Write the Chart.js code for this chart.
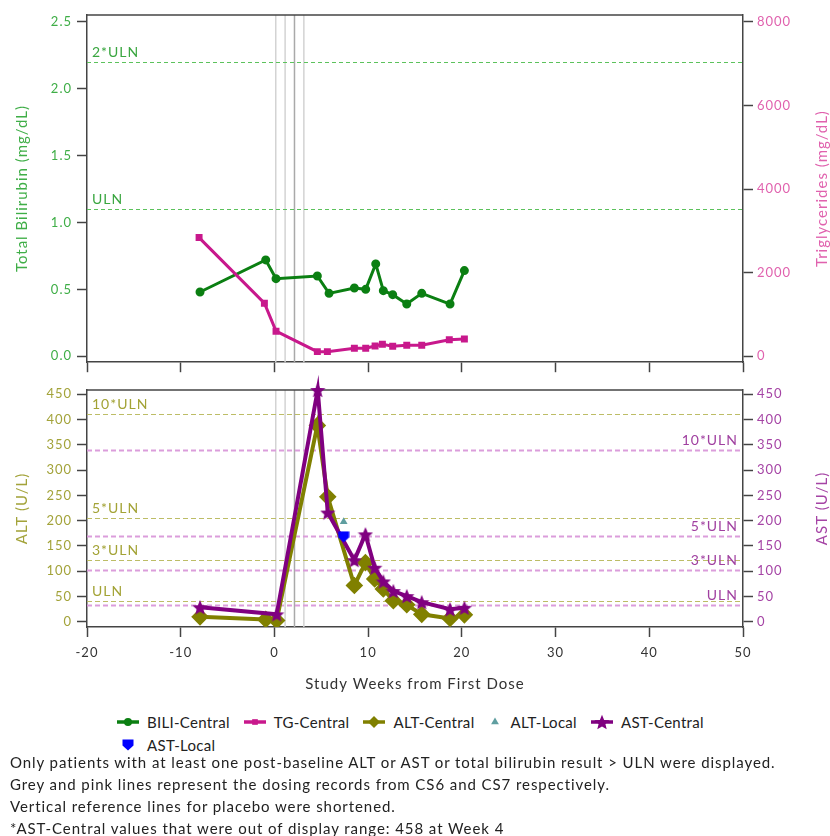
<!DOCTYPE html>
<html>
<head>
<meta charset="utf-8">
<script src="https://cdn.jsdelivr.net/npm/chart.js@4.4.1/dist/chart.umd.min.js"></script>
<style>
  body { margin: 0; background: #fff; }
  #page { position: relative; width: 830px; height: 836px; font-family: Lato, 'Open Sans', sans-serif; color: #222; overflow: hidden; }
  #chartTop { position: absolute; left: 0; top: 0; }
  #chartBottom { position: absolute; left: 0; top: 375px; }
  .legend-row { position: absolute; left: 117px; display: flex; align-items: center; height: 20px; font-size: 15px; letter-spacing: 0.3px; white-space: nowrap; }
  .legend-item { display: flex; align-items: center; margin-right: 14px; }
  .legend-item canvas { margin-right: 8px; }
  #notes { position: absolute; left: 10px; top: 751px; font-size: 15px; line-height: 22px; letter-spacing: 0.93px; white-space: nowrap; }
</style>
</head>
<body>
<div id="page">
  <canvas id="chartTop" width="830" height="375"></canvas>
  <canvas id="chartBottom" width="830" height="325"></canvas>
  <div id="legend"></div>
  <div id="notes"></div>
</div>
<script>
// bilirrubina total y trigliceridos (panel superior)
const weeksBili = [-7.94, -0.93, 0.17, 4.58, 5.83, 8.53, 9.74, 10.81, 11.62, 12.62, 14.12, 15.72, 18.74, 20.27];
const biliValues = [0.48, 0.72, 0.58, 0.60, 0.47, 0.51, 0.50, 0.69, 0.49, 0.46, 0.39, 0.47, 0.39, 0.64];

const weeksTg = [-8.04, -1.07, 0.17, 4.58, 5.65, 8.53, 9.74, 10.74, 11.52, 12.62, 14.12, 15.72, 18.66, 20.27];
const tgValues = [2840, 1270, 600, 110, 110, 190, 190, 245, 285, 240, 265, 265, 395, 410];

// ALT y AST (panel inferior)
const weeksAlt = [-7.94, -0.93, 0.24, 4.58, 5.69, 8.53, 9.71, 10.7, 11.62, 12.69, 14.12, 15.72, 18.74, 20.27];
const altValues = [10, 5, 3, 388, 247, 72, 117, 85, 65, 42, 34, 15, 7, 14];

const weeksAst = [-7.94, 0.24, 4.62, 5.69, 8.53, 9.71, 10.7, 11.62, 12.69, 14.12, 15.72, 18.74, 20.27];
const astValues = [29, 15, 458, 216, 122, 173, 107, 80, 61, 51, 39, 25, 28];

const weeksAltLocal = [7.39];
const altLocalValues = [198];
const weeksAstLocal = [7.39];
const astLocalValues = [168];

// ejes
const xTicks = [-20, -10, 0, 10, 20, 30, 40, 50];
const biliTicks = [0, 0.5, 1, 1.5, 2, 2.5];
const tgTicks = [0, 2000, 4000, 6000, 8000];
const altTicks = [0, 50, 100, 150, 200, 250, 300, 350, 400, 450];
const astTicks = [0, 50, 100, 150, 200, 250, 300, 350, 400, 450];

// registros de dosis (semanas)
const dosingWeeks = [0.14, 1.14, 2.14, 3.14];

// limites de referencia
const biliRefs = [1.1, 2.2];
const biliRefLabels = ['ULN', '2*ULN'];
const altRefs = [41, 123, 205, 410];
const altRefLabels = ['ULN', '3*ULN', '5*ULN', '10*ULN'];
const astRefs = [34, 102, 170, 340];
const astRefLabels = ['ULN', '3*ULN', '5*ULN', '10*ULN'];

const notes = [
  'Only patients with at least one post-baseline ALT or AST or total bilirubin result > ULN were displayed.',
  'Grey and pink lines represent the dosing records from CS6 and CS7 respectively.',
  'Vertical reference lines for placebo were shortened.',
  '*AST-Central values that were out of display range: 458 at Week 4'
];

const FONT = "Lato, 'Open Sans', sans-serif";

const toPoints = (xs, ys) => xs.map((x, i) => ({ x: x, y: ys[i] }));

// marcadores propios: estrella rellena y escudo
const makeMarker = (size, color, draw) => {
  const c = document.createElement('canvas');
  c.width = size;
  c.height = size;
  const ctx = c.getContext('2d');
  ctx.fillStyle = color;
  draw(ctx, size);
  return c;
};

const starImg = makeMarker(16, '#800080', (ctx, s) => {
  const cx = s / 2, cy = s / 2 + 0.8, R = s / 2, r = R * 0.45;
  ctx.beginPath();
  for (let i = 0; i < 10; i++) {
    const rad = i % 2 ? r : R;
    const a = -Math.PI / 2 + i * Math.PI / 5;
    ctx.lineTo(cx + rad * Math.cos(a), cy + rad * Math.sin(a));
  }
  ctx.closePath();
  ctx.fill();
});

const shieldImg = makeMarker(12, '#0000ff', (ctx, s) => {
  ctx.beginPath();
  ctx.moveTo(0.5, 0.5);
  ctx.lineTo(s - 0.5, 0.5);
  ctx.lineTo(s - 0.5, s * 0.55);
  ctx.lineTo(s / 2, s - 0.5);
  ctx.lineTo(0.5, s * 0.55);
  ctx.closePath();
  ctx.fill();
});

// espaciado de letras para todo el texto del canvas
const spacingPlugin = {
  id: 'spacing',
  beforeDraw(chart) {
    chart.ctx.letterSpacing = '1px';
  }
};

// lineas de referencia, dosis y marco del area
const refLinesPlugin = {
  id: 'refLines',
  beforeDatasetsDraw(chart, args, opts) {
    const { ctx, chartArea: area, scales } = chart;
    ctx.save();

    (opts.dosing || []).forEach((w, i) => {
      const x = scales.x.getPixelForValue(w);
      ctx.strokeStyle = i === 2 ? '#a9a9a9' : '#d3d3d3';
      ctx.lineWidth = 1.5;
      ctx.beginPath();
      ctx.moveTo(x, area.top);
      ctx.lineTo(x, area.bottom);
      ctx.stroke();
    });

    (opts.sets || []).forEach(set => {
      const scale = scales[set.axis];
      set.values.forEach((v, i) => {
        const y = Math.round(scale.getPixelForValue(v)) + 0.5;
        ctx.strokeStyle = set.color;
        ctx.lineWidth = set.width;
        ctx.setLineDash(set.dash);
        ctx.beginPath();
        ctx.moveTo(area.left, y);
        ctx.lineTo(area.right, y);
        ctx.stroke();
        ctx.setLineDash([]);

        ctx.fillStyle = set.textColor;
        ctx.font = '14px ' + FONT;
        ctx.textAlign = set.align;
        ctx.textBaseline = 'bottom';
        const x = set.align === 'left' ? area.left + 5 : area.right - 5;
        ctx.fillText(set.labels[i], x, y - 3);
      });
    });

    // borde superior del area
    ctx.strokeStyle = '#444';
    ctx.lineWidth = 1.5;
    ctx.beginPath();
    ctx.moveTo(area.left, area.top);
    ctx.lineTo(area.right, area.top);
    ctx.stroke();
    ctx.restore();
  }
};

// titulo del eje derecho, leido de abajo hacia arriba
const sideTitlePlugin = {
  id: 'sideTitle',
  afterDraw(chart, args, opts) {
    const { ctx, chartArea: area } = chart;
    const scale = chart.scales[opts.axis];
    ctx.save();
    ctx.translate(scale.right - 8, (area.top + area.bottom) / 2);
    ctx.rotate(-Math.PI / 2);
    ctx.fillStyle = opts.color;
    ctx.font = '15px ' + FONT;
    ctx.textAlign = 'center';
    ctx.textBaseline = 'middle';
    ctx.fillText(opts.text, 0, 0);
    ctx.restore();
  }
};

const fixTicks = values => scale => {
  scale.ticks = values.map(v => ({ value: v }));
};

const axisGrid = { drawOnChartArea: false, drawTicks: true, tickLength: 10, color: '#444', tickWidth: 1.5 };
const axisBorder = { color: '#444', width: 1.5 };

const makeX = (showLabels, height) => ({
  type: 'linear',
  min: -20,
  max: 50,
  afterBuildTicks: fixTicks(xTicks),
  afterFit: s => { s.height = height; },
  grid: axisGrid,
  border: axisBorder,
  ticks: { display: showLabels, color: '#333', padding: 8, font: { family: FONT, size: 13 } },
  title: {
    display: showLabels,
    text: 'Study Weeks from First Dose',
    color: '#333',
    font: { family: FONT, size: 15 },
    padding: { top: 0, bottom: 7 }
  }
});

const makeY = (position, min, max, ticks, color, title, fmt) => ({
  type: 'linear',
  position: position,
  min: min,
  max: max,
  afterBuildTicks: fixTicks(ticks),
  afterFit: s => { s.width = 87; },
  grid: axisGrid,
  border: axisBorder,
  ticks: {
    color: color,
    padding: position === 'left' ? 5 : 4,
    font: { family: FONT, size: 13 },
    callback: fmt
  },
  title: {
    display: position === 'left',
    text: title,
    color: color,
    font: { family: FONT, size: 15 },
    padding: { top: 13, bottom: 0 }
  }
});

const baseOptions = {
  responsive: false,
  animation: false,
  layout: { padding: { top: 15, left: 0, right: 0, bottom: 0 } }
};

const chartTop = new Chart(document.getElementById('chartTop').getContext('2d'), {
  type: 'line',
  data: {
    datasets: [
      {
        label: 'BILI-Central',
        data: toPoints(weeksBili, biliValues),
        yAxisID: 'yBili',
        borderColor: '#0b7f12',
        backgroundColor: '#0b7f12',
        borderWidth: 3,
        pointStyle: 'circle',
        pointRadius: 3,
        order: 1
      },
      {
        label: 'TG-Central',
        data: toPoints(weeksTg, tgValues),
        yAxisID: 'yTg',
        borderColor: '#c8188c',
        backgroundColor: '#c8188c',
        borderWidth: 3,
        pointStyle: 'rect',
        pointRadius: 2.8,
        order: 0
      }
    ]
  },
  options: {
    ...baseOptions,
    scales: {
      x: makeX(false, 12),
      yBili: makeY('left', -0.045, 2.552, biliTicks, '#3fae47', 'Total Bilirubin (mg/dL)', v => v.toFixed(1)),
      yTg: makeY('right', -143, 8167, tgTicks, '#e062ae', 'Triglycerides (mg/dL)', v => String(v))
    },
    plugins: {
      legend: { display: false },
      tooltip: { enabled: false },
      sideTitle: { axis: 'yTg', text: 'Triglycerides (mg/dL)', color: '#e062ae' },
      refLines: {
        dosing: dosingWeeks,
        sets: [
          { axis: 'yBili', values: biliRefs, labels: biliRefLabels, color: '#5cc25c', width: 1, dash: [4, 3], textColor: '#3aa640', align: 'left' }
        ]
      }
    }
  },
  plugins: [spacingPlugin, refLinesPlugin, sideTitlePlugin]
});

const chartBottom = new Chart(document.getElementById('chartBottom').getContext('2d'), {
  type: 'line',
  data: {
    datasets: [
      {
        label: 'ALT-Central',
        data: toPoints(weeksAlt, altValues),
        yAxisID: 'yAlt',
        borderColor: '#808000',
        backgroundColor: '#808000',
        borderWidth: 4,
        pointStyle: 'rectRot',
        pointRadius: 6,
        order: 3
      },
      {
        label: 'ALT-Local',
        data: toPoints(weeksAltLocal, altLocalValues),
        yAxisID: 'yAlt',
        showLine: false,
        borderColor: '#5f9ea0',
        backgroundColor: '#5f9ea0',
        borderWidth: 0,
        pointStyle: 'triangle',
        pointRadius: 4.5,
        order: 1
      },
      {
        label: 'AST-Central',
        data: toPoints(weeksAst, astValues),
        yAxisID: 'yAst',
        borderColor: '#800080',
        backgroundColor: '#800080',
        borderWidth: 4,
        pointStyle: starImg,
        pointRadius: 8,
        clip: false,
        order: 2
      },
      {
        label: 'AST-Local',
        data: toPoints(weeksAstLocal, astLocalValues),
        yAxisID: 'yAst',
        showLine: false,
        borderColor: '#0000ff',
        backgroundColor: '#0000ff',
        borderWidth: 0,
        pointStyle: shieldImg,
        pointRadius: 6,
        order: 0
      }
    ]
  },
  options: {
    ...baseOptions,
    scales: {
      x: makeX(true, 73),
      yAlt: makeY('left', -10, 458, altTicks, '#a3a33a', 'ALT (U/L)', v => String(v)),
      yAst: makeY('right', -10, 458, astTicks, '#a544a5', 'AST (U/L)', v => String(v))
    },
    plugins: {
      legend: { display: false },
      tooltip: { enabled: false },
      sideTitle: { axis: 'yAst', text: 'AST (U/L)', color: '#a544a5' },
      refLines: {
        dosing: dosingWeeks,
        sets: [
          { axis: 'yAlt', values: altRefs, labels: altRefLabels, color: '#bdbd66', width: 1, dash: [5, 3], textColor: '#a3a336', align: 'left' },
          { axis: 'yAst', values: astRefs, labels: astRefLabels, color: '#db9ddb', width: 2, dash: [5, 3], textColor: '#a040a0', align: 'right' }
        ]
      }
    }
  },
  plugins: [spacingPlugin, refLinesPlugin, sideTitlePlugin]
});

// leyenda comun a los dos paneles
const legendDatasets = [...chartTop.data.datasets, ...chartBottom.data.datasets];
const legendRows = [[0, 1, 2, 3, 4], [5]];
const legendEl = document.getElementById('legend');

legendRows.forEach((row, r) => {
  const rowEl = document.createElement('div');
  rowEl.className = 'legend-row';
  rowEl.style.top = (712 + r * 23) + 'px';
  row.forEach(idx => {
    const ds = legendDatasets[idx];
    const item = document.createElement('div');
    item.className = 'legend-item';
    const c = document.createElement('canvas');
    // el triangulo solo ocupa una caja estrecha
    c.width = ds.pointStyle === 'triangle' ? 14 : 22;
    c.height = 18;
    const ctx = c.getContext('2d');
    if (ds.showLine !== false) {
      ctx.strokeStyle = ds.borderColor;
      ctx.lineWidth = 3.5;
      ctx.beginPath();
      ctx.moveTo(0, 9);
      ctx.lineTo(c.width, 9);
      ctx.stroke();
    }
    ctx.fillStyle = ds.backgroundColor;
    ctx.strokeStyle = ds.borderColor;
    Chart.helpers.drawPoint(ctx, { pointStyle: ds.pointStyle, radius: Math.max(ds.pointRadius, 4), rotation: 0, borderWidth: 0 }, c.width / 2, 9);
    const span = document.createElement('span');
    span.textContent = ds.label;
    item.appendChild(c);
    item.appendChild(span);
    rowEl.appendChild(item);
  });
  legendEl.appendChild(rowEl);
});

const notesEl = document.getElementById('notes');
notes.forEach(t => {
  const d = document.createElement('div');
  d.textContent = t;
  notesEl.appendChild(d);
});
</script>
</body>
</html>
